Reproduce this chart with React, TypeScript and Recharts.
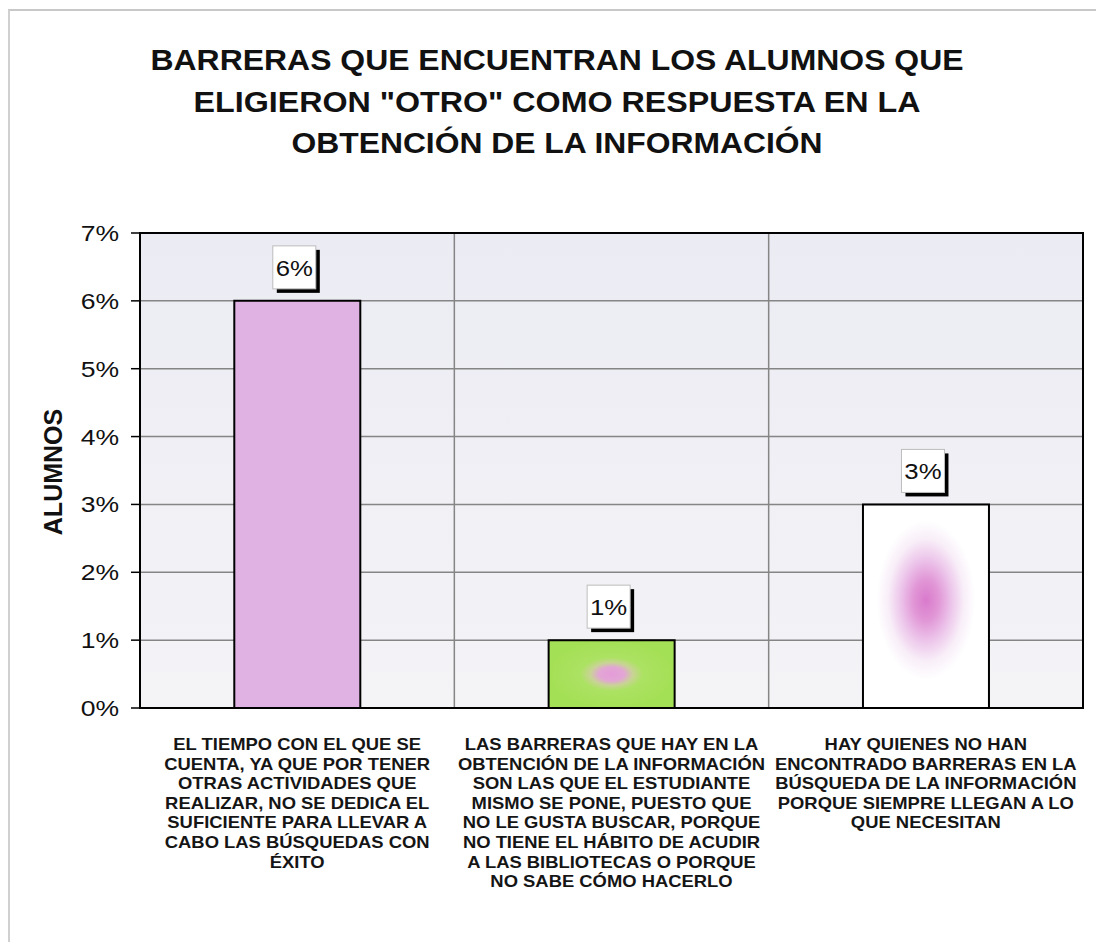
import React from 'react';
import { BarChart, Bar, XAxis, YAxis, CartesianGrid, LabelList, ReferenceArea, Cell } from 'recharts';

const titleLines = [
  'BARRERAS QUE ENCUENTRAN LOS ALUMNOS QUE',
  'ELIGIERON "OTRO" COMO RESPUESTA EN LA',
  'OBTENCIÓN DE LA INFORMACIÓN',
];
const axisTitle = 'ALUMNOS';

const categories = [
  'EL TIEMPO CON EL QUE SE CUENTA, YA QUE POR TENER OTRAS ACTIVIDADES QUE REALIZAR, NO SE DEDICA EL SUFICIENTE PARA LLEVAR A CABO LAS BÚSQUEDAS CON ÉXITO',
  'LAS BARRERAS QUE HAY EN LA OBTENCIÓN DE LA INFORMACIÓN SON LAS QUE EL ESTUDIANTE MISMO SE PONE, PUESTO QUE NO LE GUSTA BUSCAR, PORQUE NO TIENE EL HÁBITO DE ACUDIR A LAS BIBLIOTECAS O PORQUE NO SABE CÓMO HACERLO',
  'HAY QUIENES NO HAN ENCONTRADO BARRERAS EN LA BÚSQUEDA DE LA INFORMACIÓN PORQUE SIEMPRE LLEGAN A LO QUE NECESITAN',
];

const categoryLines = [
  ['EL TIEMPO CON EL QUE SE', 'CUENTA, YA QUE POR TENER', 'OTRAS ACTIVIDADES QUE', 'REALIZAR, NO SE DEDICA EL', 'SUFICIENTE PARA LLEVAR A', 'CABO LAS BÚSQUEDAS CON', 'ÉXITO'],
  ['LAS BARRERAS QUE HAY EN LA', 'OBTENCIÓN DE LA INFORMACIÓN', 'SON LAS QUE EL ESTUDIANTE', 'MISMO SE PONE, PUESTO QUE', 'NO LE GUSTA BUSCAR, PORQUE', 'NO TIENE EL HÁBITO DE ACUDIR', 'A LAS BIBLIOTECAS O PORQUE', 'NO SABE CÓMO HACERLO'],
  ['HAY QUIENES NO HAN', 'ENCONTRADO BARRERAS EN LA', 'BÚSQUEDA DE LA INFORMACIÓN', 'PORQUE SIEMPRE LLEGAN A LO', 'QUE NECESITAN'],
];

const values = [6, 1, 3];
const yTicks = [0, 1, 2, 3, 4, 5, 6, 7];

const data = categories.map((name, i) => ({ name, value: values[i] }));

const FONT = '"Liberation Sans", Arial, sans-serif';
const barFills = ['#E0B2E4', 'url(#greenGrad)', 'url(#whiteGrad)'];
const titleWidths = [813, 727, 531];

const YTick = (props: any) => {
  const { x, y, payload } = props;
  return (
    <g transform={`translate(${x},${y})`}>
      <text transform="scale(1.18,1)" textAnchor="end" dy={8} fontSize={22.5} fontFamily={FONT} fill="#111">
        {`${payload.value}%`}
      </text>
    </g>
  );
};

const XTick = (props: any) => {
  const { x, y, payload } = props;
  const idx = categories.indexOf(payload.value);
  const lines = categoryLines[idx] || [];
  return (
    <g transform={`translate(${x},${y})`}>
      <g transform="scale(1.13,1)">
        <text textAnchor="middle" fontFamily={FONT} fontWeight="bold" fontSize={16.3} fill="#151515">
          {lines.map((l, i) => (
            <tspan key={i} x={0} y={42 + i * 19.6}>{l}</tspan>
          ))}
        </text>
      </g>
    </g>
  );
};

const ValueLabel = (props: any) => {
  const x = Number(props.x), y = Number(props.y), width = Number(props.width);
  const { value } = props;
  const cx = x + width / 2 - 3;
  const w = 43, h = 43;
  const top = y - 55;
  return (
    <g>
      <rect x={cx - w / 2 + 4} y={top + 4} width={w} height={h} fill="#000" />
      <rect x={cx - w / 2} y={top} width={w} height={h} fill="#fff" stroke="#bdbdbd" strokeWidth={1} />
      <g transform={`translate(${cx},${top + h / 2 + 8.5})`}>
        <text transform="scale(1.12,1)" textAnchor="middle" fontSize={23} fontFamily={FONT} fill="#111">
          {`${value}%`}
        </text>
      </g>
    </g>
  );
};

export default function App() {
  return (
    <div style={{ position: 'absolute', left: 0, top: 0, width: 1096, height: 942, background: '#fff', fontFamily: FONT }}>
      <BarChart
        width={1096}
        height={942}
        data={data}
        margin={{ top: 233, right: 13, bottom: 64, left: 60 }}
        barCategoryGap="30%"
      >
        <defs>
          <linearGradient id="plotBg" x1="0" y1="0" x2="0" y2="1">
            <stop offset="0%" stopColor="#EBEBF3" />
            <stop offset="100%" stopColor="#F4F4F7" />
          </linearGradient>
          <radialGradient id="greenGrad" cx="0.5" cy="0.5" r="0.5">
            <stop offset="0%" stopColor="#E49CD8" />
            <stop offset="20%" stopColor="#E2A6D4" />
            <stop offset="34%" stopColor="#C8D494" />
            <stop offset="50%" stopColor="#ACE262" />
            <stop offset="100%" stopColor="#A4E056" />
          </radialGradient>
          <radialGradient id="whiteGrad" cx="0.5" cy="0.47" r="0.5">
            <stop offset="0%" stopColor="#D97ACC" />
            <stop offset="20%" stopColor="#E196D6" />
            <stop offset="40%" stopColor="#ECC4EA" />
            <stop offset="60%" stopColor="#F8EEF8" />
            <stop offset="78%" stopColor="#FFFFFF" />
            <stop offset="100%" stopColor="#FFFFFF" />
          </radialGradient>
        </defs>
        <CartesianGrid
          fill="url(#plotBg)"
          stroke="#858585"
          strokeWidth={1.5}
          verticalCoordinatesGenerator={({ offset }: any) => [
            offset.left + offset.width / 3,
            offset.left + (2 * offset.width) / 3,
          ]}
        />
        <XAxis
          dataKey="name"
          type="category"
          height={170}
          axisLine={{ stroke: '#000', strokeWidth: 2 }}
          tickLine={false}
          tickSize={0}
          tickMargin={0}
          interval={0}
          tick={<XTick />}
        />
        <YAxis
          type="number"
          domain={[0, 7]}
          ticks={yTicks}
          width={80}
          axisLine={{ stroke: '#000', strokeWidth: 2 }}
          tickLine={{ stroke: '#000', strokeWidth: 1.5 }}
          tickSize={9}
          tickMargin={12}
          tick={<YTick />}
          interval={0}
        />
        <ReferenceArea y1={0} y2={7} fill="none" stroke="#000" strokeWidth={2} ifOverflow="visible" />
        <Bar dataKey="value" stroke="#000" strokeWidth={2} isAnimationActive={false}>
          {data.map((_, i) => (
            <Cell key={i} fill={barFills[i]} />
          ))}
          <LabelList dataKey="value" content={<ValueLabel />} />
        </Bar>
      </BarChart>
      <svg
        width={1096}
        height={942}
        style={{ position: 'absolute', left: 0, top: 0, pointerEvents: 'none' }}
      >
        <line x1={8} y1={10} x2={1096} y2={10} stroke="#c8c8c8" strokeWidth={2} />
        <line x1={9} y1={10} x2={9} y2={942} stroke="#d0d0d0" strokeWidth={2} />
        {titleLines.map((t, i) => (
          <text
            key={i}
            x={557 - titleWidths[i] / 2}
            y={70 + i * 41.5}
            textLength={titleWidths[i]}
            lengthAdjust="spacingAndGlyphs"
            fontSize={29}
            fontWeight="bold"
            fontFamily={FONT}
            fill="#111"
          >
            {t}
          </text>
        ))}
        <text
          transform="translate(62,472) rotate(-90)"
          textAnchor="middle"
          fontSize={25}
          fontWeight="bold"
          fontFamily={FONT}
          fill="#111"
        >
          {axisTitle}
        </text>
      </svg>
    </div>
  );
}
